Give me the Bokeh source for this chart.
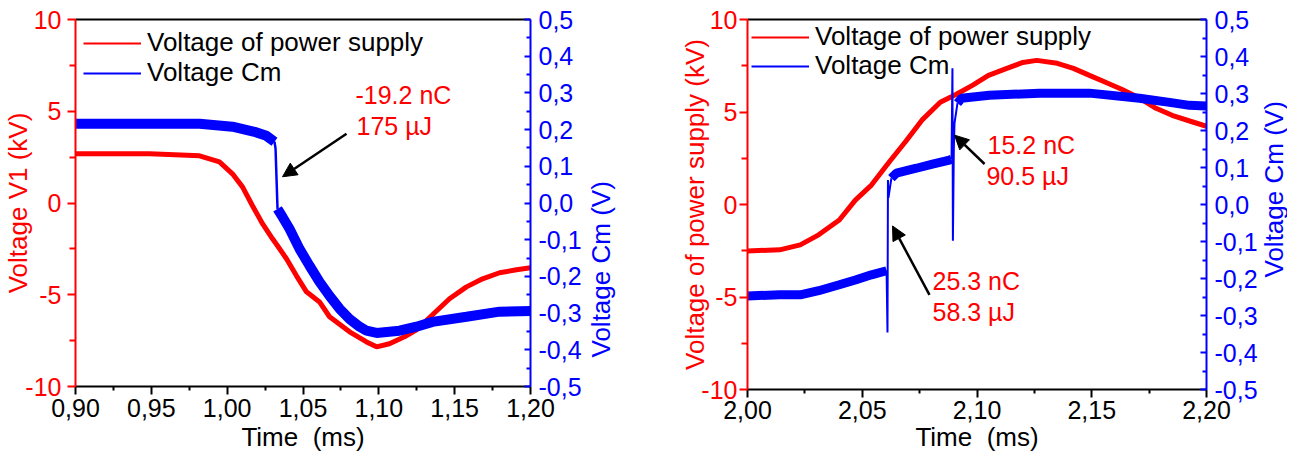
import math
from bokeh.plotting import figure
from bokeh.models import (Range1d, LinearAxis, FixedTicker, CustomJSTickFormatter,
                          Legend, LegendItem, Label, Arrow, NormalHead)
from bokeh.layouts import row
from bokeh.embed import file_html
from bokeh.resources import INLINE

FONT = "Liberation Sans"
RED = "#ff0000"
BLUE = "#0000ff"

# ---------------- Left panel data ----------------
t1_supply = [0.9000, 0.9488, 0.9818, 0.9949, 1.0035, 1.0101, 1.0167, 1.0233, 1.0299, 1.0332,
             1.0391, 1.0457, 1.0523, 1.0609, 1.0675, 1.0807, 1.0919, 1.0985, 1.1070, 1.1169,
             1.1248, 1.1354, 1.1466, 1.1578, 1.1684, 1.1796, 1.1908, 1.2000]
v1_supply = [2.68, 2.68, 2.57, 2.24, 1.59, 0.88, -0.15, -1.13, -1.95, -2.33,
             -3.04, -3.97, -4.84, -5.39, -6.20, -7.02, -7.57, -7.84, -7.67, -7.29,
             -6.91, -6.09, -5.22, -4.57, -4.13, -3.80, -3.64, -3.53]

t1_cm_before = [0.9000, 0.9488, 0.9818, 1.0035, 1.0180, 1.0259, 1.0312]
cm1_before = [0.216, 0.216, 0.216, 0.208, 0.194, 0.183, 0.167]
t1_cm_jump = [1.0312, 1.0319, 1.0332]
cm1_jump = [0.167, 0.148, -0.016]
t1_cm_after = [1.0332, 1.0365, 1.0411, 1.0477, 1.0543, 1.0609, 1.0675, 1.0741, 1.0807, 1.0873,
               1.0919, 1.0985, 1.1136, 1.1248, 1.1354, 1.1578, 1.1796, 1.2000]
cm1_after = [-0.016, -0.038, -0.070, -0.125, -0.171, -0.215, -0.253, -0.288, -0.316, -0.337,
             -0.348, -0.354, -0.348, -0.337, -0.324, -0.310, -0.296, -0.294]

x1_ticks = [0.90, 0.95, 1.00, 1.05, 1.10, 1.15, 1.20]
x1_minor = [0.925, 0.975, 1.025, 1.075, 1.125, 1.175]

# ---------------- Right panel data ----------------
t2_supply = [2.000, 2.014, 2.023, 2.031, 2.040, 2.047, 2.054, 2.062, 2.069, 2.076, 2.084, 2.091,
             2.098, 2.105, 2.113, 2.120, 2.126, 2.135, 2.142, 2.149, 2.157, 2.163, 2.171, 2.178,
             2.185, 2.193, 2.200]
v2_supply = [-2.51, -2.45, -2.18, -1.64, -0.84, 0.24, 1.05, 2.34, 3.42, 4.56, 5.53, 5.96,
             6.44, 6.98, 7.36, 7.68, 7.79, 7.63, 7.36, 6.98, 6.55, 6.23, 5.74, 5.20,
             4.82, 4.50, 4.23]

t2_cm_a = [2.000, 2.014, 2.023, 2.031, 2.040, 2.047, 2.054, 2.0606]
cm2_a = [-0.247, -0.244, -0.244, -0.233, -0.217, -0.204, -0.190, -0.179]
t2_cm_jump1 = [2.0606, 2.0610, 2.0612, 2.0614, 2.0627]
cm2_jump1 = [-0.179, -0.346, 0.066, 0.018, 0.071]
t2_cm_b = [2.0627, 2.0649, 2.0736, 2.0806, 2.0880, 2.0889]
cm2_b = [0.071, 0.085, 0.098, 0.109, 0.120, 0.122]
t2_cm_jump2 = [2.0889, 2.0893, 2.0895, 2.0899, 2.0902, 2.0915]
cm2_jump2 = [0.122, 0.368, -0.098, 0.150, 0.220, 0.274]
t2_cm_c = [2.0915, 2.0932, 2.1054, 2.1272, 2.1490, 2.1708, 2.1839, 2.1926, 2.2000]
cm2_c = [0.274, 0.287, 0.295, 0.301, 0.301, 0.287, 0.276, 0.268, 0.266]

x2_ticks = [2.00, 2.05, 2.10, 2.15, 2.20]
x2_minor = [2.025, 2.075, 2.125, 2.175]

kv_ticks = [-10, -5, 0, 5, 10]
kv_minor = [-7.5, -2.5, 2.5, 7.5]
cm_ticks = [-0.5, -0.4, -0.3, -0.2, -0.1, 0.0, 0.1, 0.2, 0.3, 0.4, 0.5]
cm_minor = [-0.45, -0.35, -0.25, -0.15, -0.05, 0.05, 0.15, 0.25, 0.35, 0.45]

legend_labels = ["Voltage of power supply", "Voltage Cm"]
x_title = "Time \u00a0(ms)"
cm_title = "Voltage Cm (V)"

# annotations: (text, x, y) in data coords (kV axis)
ann1 = [("-19.2 nC", 1.0846, 5.9), ("175 µJ", 1.0853, 4.2)]
arrow1 = (1.0787, 3.77, 1.0365, 1.43)
ann2 = [("15.2 nC", 2.1046, 3.21), ("90.5 µJ", 2.1041, 1.54),
        ("25.3 nC", 2.0806, -4.13), ("58.3 µJ", 2.0806, -5.80)]
arrows2 = [(2.1033, 2.19, 2.0902, 3.75), (2.0793, -4.89, 2.0632, -1.16)]

FIG_H = 438


def fmt(digits):
    return CustomJSTickFormatter(code="""
        var s = Math.abs(tick) < 1e-9 ? (0).toFixed(%d) : tick.toFixed(%d);
        return s.replace('.', ',');
    """ % (digits, digits))


def style_axis(ax, color, label, tick_in, tick_out, minor_in, minor_out,
               label_standoff, title_standoff):
    ax.axis_line_color = color
    ax.axis_line_width = 2
    ax.major_tick_line_color = color
    ax.major_tick_line_width = 2
    ax.minor_tick_line_color = color
    ax.minor_tick_line_width = 2
    ax.major_tick_in = tick_in
    ax.major_tick_out = tick_out
    ax.minor_tick_in = minor_in
    ax.minor_tick_out = minor_out
    ax.major_label_text_color = color
    ax.major_label_text_font = FONT
    ax.major_label_text_font_size = "25px"
    ax.major_label_standoff = label_standoff
    if label:
        ax.axis_label = label
        ax.axis_label_text_color = color
        ax.axis_label_text_font = FONT
        ax.axis_label_text_font_size = "26px"
        ax.axis_label_text_font_style = "normal"
        ax.axis_label_standoff = title_standoff


def title_fig(w, text, color, cx, cy):
    """Narrow strip holding a rotated axis title (reads bottom to top, starts at cy)."""
    f = figure(frame_width=w, frame_height=FIG_H, title=None,
               x_range=Range1d(0, w), y_range=Range1d(FIG_H, 0),
               x_axis_type=None, y_axis_type=None, output_backend="svg",
               toolbar_location=None, min_border=0,
               min_border_left=0, min_border_right=0, min_border_top=0, min_border_bottom=0)
    f.grid.visible = False
    f.outline_line_color = None
    f.add_layout(Label(x=cx, y=cy, text=text, text_color=color, text_font=FONT,
                       text_font_size="26px", angle=math.pi / 2,
                       text_align="left", text_baseline="middle"))
    return f


def make_panel(xr, x_ticks, x_minor, fw, fh, borders, ylabel, left_std, bottom_std):
    p = figure(frame_width=fw, frame_height=fh, x_range=Range1d(*xr),
               y_range=Range1d(-10, 10), output_backend="svg", toolbar_location=None,
               min_border_left=borders[0], min_border_right=borders[1],
               min_border_top=borders[2], min_border_bottom=borders[3])
    p.extra_y_ranges = {"cm": Range1d(-0.5, 0.5)}
    p.xgrid.visible = False
    p.ygrid.visible = False
    p.outline_line_color = None
    p.background_fill_color = "white"
    p.border_fill_color = "white"

    xa = p.xaxis[0]
    xa.ticker = FixedTicker(ticks=x_ticks, minor_ticks=x_minor)
    xa.formatter = fmt(2)
    style_axis(xa, "black", x_title, 0, 8, 0, 4, bottom_std[0], bottom_std[1])

    ya = p.yaxis[0]
    ya.ticker = FixedTicker(ticks=kv_ticks, minor_ticks=kv_minor)
    ya.formatter = fmt(0)
    style_axis(ya, RED, ylabel, 0, 8, 0, 6, left_std[0], left_std[1])

    ra = LinearAxis(y_range_name="cm")
    ra.ticker = FixedTicker(ticks=cm_ticks, minor_ticks=cm_minor)
    ra.formatter = fmt(1)
    style_axis(ra, BLUE, None, 6, 0, 4, 0, 8, 0)
    p.add_layout(ra, "right")

    top = LinearAxis(ticker=FixedTicker(ticks=[]))
    top.axis_line_color = "black"
    top.axis_line_width = 2
    top.major_tick_in = 0
    top.major_tick_out = 0
    top.minor_tick_in = 0
    top.minor_tick_out = 0
    top.major_label_text_font_size = "0px"
    top.major_label_standoff = 0
    p.add_layout(top, "above")
    return p


def add_legend(p, renderers, locs):
    for lab, r, loc in zip(legend_labels, renderers, locs):
        leg = Legend(items=[LegendItem(label=lab, renderers=[r])],
                     location=loc, margin=0, padding=0, spacing=0,
                     glyph_width=58, glyph_height=20, label_height=20, label_standoff=6,
                     label_text_font=FONT, label_text_font_size="26px",
                     label_text_color="black", background_fill_alpha=0,
                     border_line_color=None)
        p.add_layout(leg)


# ---------------- Left panel ----------------
p1 = make_panel((0.9, 1.2), x1_ticks, x1_minor, 455, 367, (68, 55, 19, 10),
                "Voltage V1 (kV)", (6, -11), (4, 2))
lr1 = p1.line(t1_supply, v1_supply, line_color=RED, line_width=2)
lb1 = p1.line(t1_cm_before, cm1_before, line_color=BLUE, line_width=2, y_range_name="cm")
p1.line(t1_supply, v1_supply, line_color=RED, line_width=5)
p1.line(t1_cm_before, cm1_before, line_color=BLUE, line_width=10, y_range_name="cm")
p1.line(t1_cm_jump, cm1_jump, line_color=BLUE, line_width=2.5, y_range_name="cm")
p1.line(t1_cm_after, cm1_after, line_color=BLUE, line_width=10, y_range_name="cm")
add_legend(p1, [lr1, lb1], [(8, 328), (8, 298)])
for txt, x, y in ann1:
    p1.add_layout(Label(x=x, y=y, text=txt, text_color=RED, text_font=FONT,
                        text_font_size="25px", text_align="left", text_baseline="middle"))
p1.add_layout(Arrow(end=NormalHead(size=14, fill_color="black", line_color="black"),
                    x_start=arrow1[0], y_start=arrow1[1], x_end=arrow1[2], y_end=arrow1[3],
                    line_color="black", line_width=2.5))

t1 = title_fig(52, cm_title, BLUE, 15, 338)

# ---------------- Right panel ----------------
p2 = make_panel((2.0, 2.2), x2_ticks, x2_minor, 459, 370, (110, 52, 19, 10),
                "Voltage of power supply (kV)", (2, -12), (3, 0))
lr2 = p2.line(t2_supply, v2_supply, line_color=RED, line_width=2)
lb2 = p2.line(t2_cm_a, cm2_a, line_color=BLUE, line_width=2, y_range_name="cm")
p2.line(t2_supply, v2_supply, line_color=RED, line_width=5)
p2.line(t2_cm_a, cm2_a, line_color=BLUE, line_width=9, y_range_name="cm")
p2.line(t2_cm_jump1, cm2_jump1, line_color=BLUE, line_width=2, y_range_name="cm")
p2.line(t2_cm_b, cm2_b, line_color=BLUE, line_width=9, y_range_name="cm")
p2.line(t2_cm_jump2, cm2_jump2, line_color=BLUE, line_width=2, y_range_name="cm")
p2.line(t2_cm_c, cm2_c, line_color=BLUE, line_width=9, y_range_name="cm")
add_legend(p2, [lr2, lb2], [(4, 337), (4, 308)])
for txt, x, y in ann2:
    p2.add_layout(Label(x=x, y=y, text=txt, text_color=RED, text_font=FONT,
                        text_font_size="25px", text_align="left", text_baseline="middle"))
for a in arrows2:
    p2.add_layout(Arrow(end=NormalHead(size=14, fill_color="black", line_color="black"),
                        x_start=a[0], y_start=a[1], x_end=a[2], y_end=a[3],
                        line_color="black", line_width=2.5))

t3 = title_fig(27, cm_title, BLUE, 13, 258)

layout = row(p1, t1, p2, t3)
open("out.html", "w").write(file_html(layout, INLINE))
